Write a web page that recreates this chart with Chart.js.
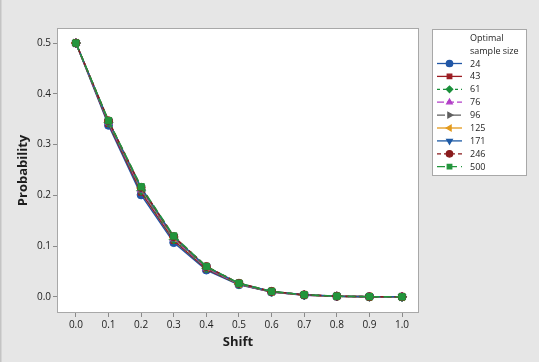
<!doctype html>
<html lang="en">
<head>
<meta charset="utf-8">
<title>Probability vs Shift</title>
<script src="https://cdn.jsdelivr.net/npm/chart.js"></script>
<style>
  html, body { margin: 0; padding: 0; background: #e6e6e6; }
  #wrap { width: 539px; height: 362px; }
</style>
</head>
<body>
<div id="wrap"><canvas id="myChart" width="539" height="362"></canvas></div>
<script>
// setup
const shifts = [0.0, 0.1, 0.2, 0.3, 0.4, 0.5, 0.6, 0.7, 0.8, 0.9, 1.0];
const sampleSizes = ['24', '43', '61', '76', '96', '125', '171', '246', '500'];
const p24  = [0.5, 0.338, 0.201, 0.107, 0.053, 0.024, 0.0095, 0.0035, 0.0012, 0.0004, 0.0001];
const p43  = [0.5, 0.341, 0.206, 0.111, 0.055, 0.025, 0.0098, 0.0037, 0.0013, 0.0004, 0.0001];
const p61  = [0.5, 0.343, 0.209, 0.113, 0.056, 0.025, 0.0100, 0.0038, 0.0013, 0.0004, 0.0001];
const p76  = [0.5, 0.344, 0.211, 0.115, 0.057, 0.0255, 0.0100, 0.0039, 0.0014, 0.0005, 0.0002];
const p96  = [0.5, 0.345, 0.212, 0.116, 0.058, 0.026, 0.0103, 0.0040, 0.0014, 0.0005, 0.0002];
const p125 = [0.5, 0.346, 0.214, 0.117, 0.059, 0.026, 0.0105, 0.0040, 0.0015, 0.0005, 0.0002];
const p171 = [0.5, 0.346, 0.215, 0.118, 0.059, 0.0265, 0.0107, 0.0041, 0.0015, 0.0005, 0.0002];
const p246 = [0.5, 0.347, 0.216, 0.119, 0.060, 0.027, 0.0110, 0.0042, 0.0015, 0.0005, 0.0002];
const p500 = [0.5, 0.347, 0.217, 0.120, 0.060, 0.027, 0.0110, 0.0042, 0.0016, 0.0006, 0.0002];
const xTicks = [0.0, 0.1, 0.2, 0.3, 0.4, 0.5, 0.6, 0.7, 0.8, 0.9, 1.0];
const yTicks = [0.0, 0.1, 0.2, 0.3, 0.4, 0.5];

const series = [p24, p43, p61, p76, p96, p125, p171, p246, p500];
const colors = ['#2157a6', '#9c1c22', '#1a8f3a', '#b23fc7', '#5f5f5f', '#e39a1c', '#1d5aa5', '#8a1b1d', '#22953c'];
const markers = ['circle', 'rect', 'rectRot', 'triangle', 'triangle', 'triangle', 'triangle', 'circle', 'rect'];
const rotations = [0, 0, 0, 0, 90, 270, 180, 0, 0];
const dashes = [[], [], [3, 3], [7, 3], [8, 3, 2, 3], [], [], [4, 3], [8, 4]];
const sizes = [4, 4, 4.5, 4.5, 4.5, 4.5, 4.5, 4, 4.5];

const font = "'Open Sans', 'Noto Sans', sans-serif";

const data = {
  datasets: series.map((vals, i) => ({
    label: sampleSizes[i],
    data: vals.map((v, j) => ({ x: shifts[j], y: v })),
    borderColor: colors[i],
    backgroundColor: colors[i],
    borderWidth: 1.5,
    borderDash: dashes[i],
    pointStyle: markers[i],
    pointRotation: rotations[i],
    pointRadius: sizes[i],
    pointBorderWidth: 1,
    order: series.length - i, // last series (500) ends up on top
    tension: 0
  }))
};

// white plot box + frame, legend with line + marker samples
const framePlugin = {
  id: 'frame',
  beforeDraw(chart) {
    const { ctx, chartArea: a } = chart;
    ctx.save();
    ctx.fillStyle = '#e6e6e6';
    ctx.fillRect(0, 0, chart.width, chart.height);
    ctx.fillStyle = '#c4c4c4';
    ctx.fillRect(0, 0, 1.5, chart.height);
    ctx.fillStyle = '#ffffff';
    ctx.fillRect(a.left, a.top, a.right - a.left, a.bottom - a.top);
    ctx.restore();
  },
  afterDraw(chart) {
    const { ctx, chartArea: a } = chart;
    ctx.save();
    ctx.strokeStyle = '#a8a8a8';
    ctx.lineWidth = 1;
    ctx.strokeRect(a.left + 0.5, a.top + 0.5, a.right - a.left - 1, a.bottom - a.top - 1);

    // legend box
    const lx = 432.5, ly = 29.5, lw = 94, lh = 146;
    ctx.fillStyle = '#ffffff';
    ctx.fillRect(lx, ly, lw, lh);
    ctx.strokeStyle = '#a8a8a8';
    ctx.strokeRect(lx, ly, lw, lh);
    ctx.fillStyle = '#1e1e1e';
    ctx.font = '9px ' + font;
    ctx.textBaseline = 'middle';
    ctx.fillText('Optimal', 470, 38);
    ctx.fillText('sample size', 470, 51.5);
    chart.data.datasets.forEach((ds, i) => {
      const y = 63.5 + i * 12.9;
      ctx.strokeStyle = ds.borderColor;
      ctx.lineWidth = 1.3;
      ctx.setLineDash(ds.borderDash);
      ctx.beginPath();
      ctx.moveTo(437, y);
      ctx.lineTo(462, y);
      ctx.stroke();
      ctx.setLineDash([]);
      ctx.fillStyle = ds.backgroundColor;
      Chart.helpers.drawPoint(ctx, {
        pointStyle: ds.pointStyle,
        rotation: ds.pointRotation,
        radius: 3.2,
        borderWidth: 1
      }, 449.5, y);
      ctx.fillStyle = '#1e1e1e';
      ctx.fillText(ds.label, 470, y + 0.5);
    });
    ctx.restore();
  }
};

// config
const config = {
  type: 'line',
  data,
  options: {
    responsive: false,
    animation: false,
    devicePixelRatio: 1,
    layout: { padding: { left: 0, top: 28, right: 120, bottom: 0 } },
    plugins: { legend: { display: false }, tooltip: { enabled: false } },
    scales: {
      x: {
        type: 'linear',
        min: -0.058,
        max: 1.052,
        afterBuildTicks: s => { s.ticks = xTicks.map(v => ({ value: v })); },
        afterFit: s => { s.height = 49; },
        grid: { drawOnChartArea: false, drawTicks: true, tickLength: 4, color: '#8a8a8a' },
        border: { display: false },
        ticks: {
          padding: 2,
          color: '#222',
          font: { family: font, size: 10 },
          callback: v => v.toFixed(1)
        },
        title: {
          display: true,
          text: 'Shift',
          color: '#1e1e1e',
          font: { family: font, size: 13, weight: 'bold' },
          padding: { top: 0, bottom: 12 }
        }
      },
      y: {
        min: -0.0316,
        max: 0.5296,
        afterBuildTicks: s => { s.ticks = yTicks.map(v => ({ value: v })); },
        afterFit: s => { s.width = 57; },
        grid: { drawOnChartArea: false, drawTicks: true, tickLength: 4, color: '#8a8a8a' },
        border: { display: false },
        ticks: {
          padding: 2,
          color: '#222',
          font: { family: font, size: 10 },
          callback: v => v.toFixed(1)
        },
        title: {
          display: true,
          text: 'Probability',
          color: '#1e1e1e',
          font: { family: font, size: 13, weight: 'bold' },
          padding: { top: 15, bottom: 0 }
        }
      }
    }
  },
  plugins: [framePlugin]
};

// render init block
const myChart = new Chart(document.getElementById('myChart'), config);
</script>
</body>
</html>
